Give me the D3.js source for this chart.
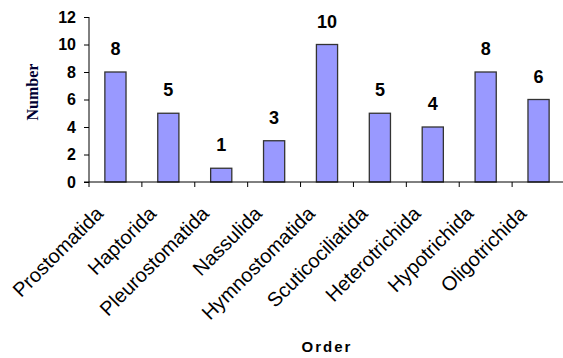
<!DOCTYPE html>
<html>
<head>
<meta charset="utf-8">
<script src="https://cdn.jsdelivr.net/npm/d3@7"></script>
<style>
  html, body { margin: 0; padding: 0; background: #fff; }
  svg { display: block; }
</style>
</head>
<body>
<script>
// Ciliate orders and the number of species recorded in each
const orders = ["Prostomatida", "Haptorida", "Pleurostomatida", "Nassulida", "Hymnostomatida",
                "Scuticociliatida", "Heterotrichida", "Hypotrichida", "Oligotrichida"];
const counts = [8, 5, 1, 3, 10, 5, 4, 8, 6];
const yTicks = [0, 2, 4, 6, 8, 10, 12];

const width = 563, height = 358;
const plot = { left: 89, right: 565, top: 17, bottom: 182 };

const svg = d3.select("body").append("svg")
  .attr("width", width).attr("height", height);

const x = d3.scaleBand().domain(orders).range([plot.left, plot.right]).paddingInner(0.6).paddingOuter(0.3);
const y = d3.scaleLinear().domain([0, 12]).range([plot.bottom, plot.top]);

// Bars
svg.append("g").selectAll("rect").data(orders).join("rect")
  .attr("x", d => x(d))
  .attr("y", (d, i) => y(counts[i]))
  .attr("width", x.bandwidth())
  .attr("height", (d, i) => y(0) - y(counts[i]))
  .attr("fill", "#9999ff")
  .attr("stroke", "#333")
  .attr("stroke-width", 1.3);

// Value labels above bars
svg.append("g").selectAll("text").data(orders).join("text")
  .attr("x", d => x(d) + x.bandwidth() / 2)
  .attr("y", (d, i) => y(counts[i]) - 17)
  .attr("text-anchor", "middle")
  .attr("font-family", "Liberation Sans, Arial, sans-serif")
  .attr("font-weight", "bold")
  .attr("font-size", 18)
  .attr("fill", "#000")
  .text((d, i) => counts[i]);

// Y axis
const yAxis = svg.append("g")
  .attr("transform", `translate(${plot.left},0)`)
  .call(d3.axisLeft(y).tickValues(yTicks).tickSize(5).tickPadding(8));
yAxis.select(".domain").attr("d", `M0,${plot.top}V${plot.bottom}`);
yAxis.selectAll("text")
  .attr("font-family", "Liberation Sans, Arial, sans-serif")
  .attr("font-weight", "bold")
  .attr("font-size", 16)
  .attr("fill", "#000");

// X axis: ticks sit on band boundaries
const boundaries = orders.map(d => x(d) - x.step() * x.paddingInner() / 2)
  .concat([plot.right]);
const xAxis = svg.append("g").attr("transform", `translate(0,${plot.bottom})`);
xAxis.append("line")
  .attr("x1", plot.left - 5).attr("x2", width)
  .attr("stroke", "#000");
xAxis.selectAll("line.tick").data(boundaries).join("line")
  .attr("class", "tick")
  .attr("x1", d => d).attr("x2", d => d)
  .attr("y1", 0).attr("y2", 5)
  .attr("stroke", "#000");

// Rotated category labels
svg.append("g").selectAll("text").data(orders).join("text")
  .attr("transform", d => `translate(${x(d) + x.bandwidth() / 2 - 11},${plot.bottom + 33}) rotate(-45)`)
  .attr("text-anchor", "end")
  .attr("font-family", "Liberation Sans, Arial, sans-serif")
  .attr("font-size", 20)
  .attr("fill", "#000")
  .text(d => d);

// Axis titles
svg.append("text")
  .attr("x", (plot.left + plot.right) / 2)
  .attr("y", 352)
  .attr("text-anchor", "middle")
  .attr("font-family", "Liberation Sans, Arial, sans-serif")
  .attr("font-weight", "bold")
  .attr("font-size", 15)
  .attr("letter-spacing", 2)
  .attr("fill", "#000")
  .text("Order");

svg.append("text")
  .attr("transform", `translate(38,92) rotate(-90)`)
  .attr("text-anchor", "middle")
  .attr("font-family", "Liberation Serif, Times New Roman, serif")
  .attr("font-weight", "bold")
  .attr("font-size", 16)
  .attr("fill", "#000033")
  .text("Number");
</script>
</body>
</html>
